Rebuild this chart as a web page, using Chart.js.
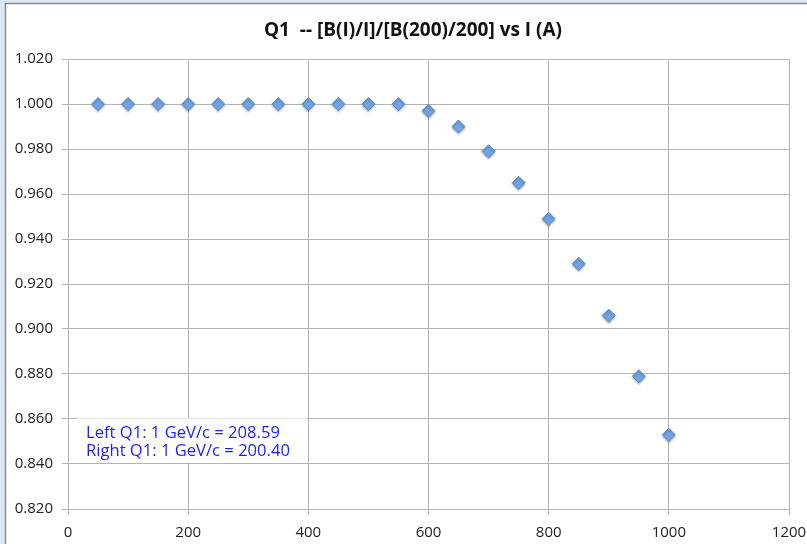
<!DOCTYPE html>
<html>
<head>
<meta charset="utf-8">
<script src="https://cdn.jsdelivr.net/npm/chart.js@4/dist/chart.umd.min.js"></script>
<style>
  html, body { margin: 0; padding: 0; background: #dce8f5; }
  #wrap { width: 807px; height: 544px; position: relative; }
</style>
</head>
<body>
<div id="wrap"><canvas id="q1-chart" width="807" height="544"></canvas></div>
<script>
// Current (A) and normalised transfer function for Q1
const currents = [50, 100, 150, 200, 250, 300, 350, 400, 450, 500, 550, 600, 650, 700, 750, 800, 850, 900, 950, 1000];
const ratios = [1.000, 1.000, 1.000, 1.000, 1.000, 1.000, 1.000, 1.000, 1.000, 1.000, 1.000, 0.997, 0.990, 0.979, 0.965, 0.949, 0.929, 0.906, 0.879, 0.853];
const titleText = 'Q1  -- [B(I)/I]/[B(200)/200] vs I (A)';
const noteLines = ['Left Q1: 1 GeV/c = 208.59', 'Right Q1: 1 GeV/c = 200.40'];

const FONT = "'Open Sans', 'Liberation Sans', sans-serif";
const GRID = '#b4b4b4';

// frame, title and the calibration note
const framePlugin = {
    id: 'frame',
    beforeDraw(chart) {
        const ctx = chart.ctx;
        ctx.save();
        ctx.fillStyle = '#dce8f5';
        ctx.fillRect(0, 0, chart.width, chart.height);
        ctx.fillStyle = '#ffffff';
        ctx.fillRect(6, 4, chart.width - 6, chart.height - 4);
        ctx.strokeStyle = '#8a8a8a';
        ctx.lineWidth = 1.5;
        ctx.beginPath();
        ctx.moveTo(5.5, chart.height);
        ctx.lineTo(5.5, 3.5);
        ctx.lineTo(chart.width, 3.5);
        ctx.stroke();
        ctx.restore();
    },
    beforeDatasetsDraw(chart) {
        const ctx = chart.ctx;
        const x = chart.scales.x;
        const y = chart.scales.y;
        ctx.save();
        // note box sits over the grid
        const left = x.getPixelForValue(15);
        const right = x.getPixelForValue(397);
        const top = y.getPixelForValue(0.8603);
        const bottom = y.getPixelForValue(0.8406);
        ctx.fillStyle = '#ffffff';
        ctx.fillRect(left, top, right - left, bottom - top);
        ctx.fillStyle = '#1f1ff2';
        ctx.font = '16.6px ' + FONT;
        ctx.textBaseline = 'middle';
        ctx.textAlign = 'left';
        ctx.fillText(noteLines[0], left + 9, top + 15);
        ctx.fillText(noteLines[1], left + 9, top + 33);
        ctx.restore();

        ctx.save();
        ctx.fillStyle = '#111111';
        ctx.font = 'bold 19px ' + FONT;
        ctx.textAlign = 'center';
        ctx.textBaseline = 'middle';
        ctx.fillText(titleText, 413, 31);
        ctx.restore();

        // soft shadow under the markers
        ctx.save();
        ctx.shadowColor = 'rgba(0, 0, 0, 0.28)';
        ctx.shadowBlur = 2;
        ctx.shadowOffsetY = 1.5;
    },
    afterDatasetsDraw(chart) {
        chart.ctx.restore();
    }
};

const ctx = document.getElementById('q1-chart').getContext('2d');
const q1Chart = new Chart(ctx, {
    type: 'scatter',
    data: {
        datasets: [{
            label: 'Q1',
            data: currents.map((c, i) => ({ x: c, y: ratios[i] })),
            pointStyle: 'rectRot',
            pointRadius: 6.5,
            backgroundColor: '#70a3e0',
            borderColor: '#5b8ecf',
            borderWidth: 1
        }]
    },
    options: {
        responsive: false,
        animation: false,
        layout: { padding: { top: 59, right: 18, left: 0, bottom: 0 } },
        plugins: {
            legend: { display: false },
            tooltip: { enabled: false },
            title: { display: false }
        },
        scales: {
            x: {
                type: 'linear',
                min: 0,
                max: 1200,
                afterFit(scale) {
                    scale.height = 35;
                    // let the layout padding alone decide the right edge
                    scale.paddingLeft = 0;
                    scale.paddingRight = 0;
                },
                ticks: {
                    stepSize: 200,
                    padding: 9,
                    color: '#222222',
                    font: { family: FONT, size: 15 },
                    callback: v => String(v)
                },
                grid: { color: GRID, lineWidth: 1, tickLength: 6 },
                border: { color: GRID, width: 1 }
            },
            y: {
                min: 0.82,
                max: 1.02,
                afterFit(scale) {
                    scale.width = 68;
                    scale.paddingTop = 0;
                    scale.paddingBottom = 0;
                },
                ticks: {
                    stepSize: 0.02,
                    padding: 9,
                    color: '#222222',
                    font: { family: FONT, size: 15 },
                    callback: v => v.toFixed(3)
                },
                grid: { color: GRID, lineWidth: 1, tickLength: 6 },
                border: { color: GRID, width: 1 }
            }
        }
    },
    plugins: [framePlugin]
});
</script>
</body>
</html>
